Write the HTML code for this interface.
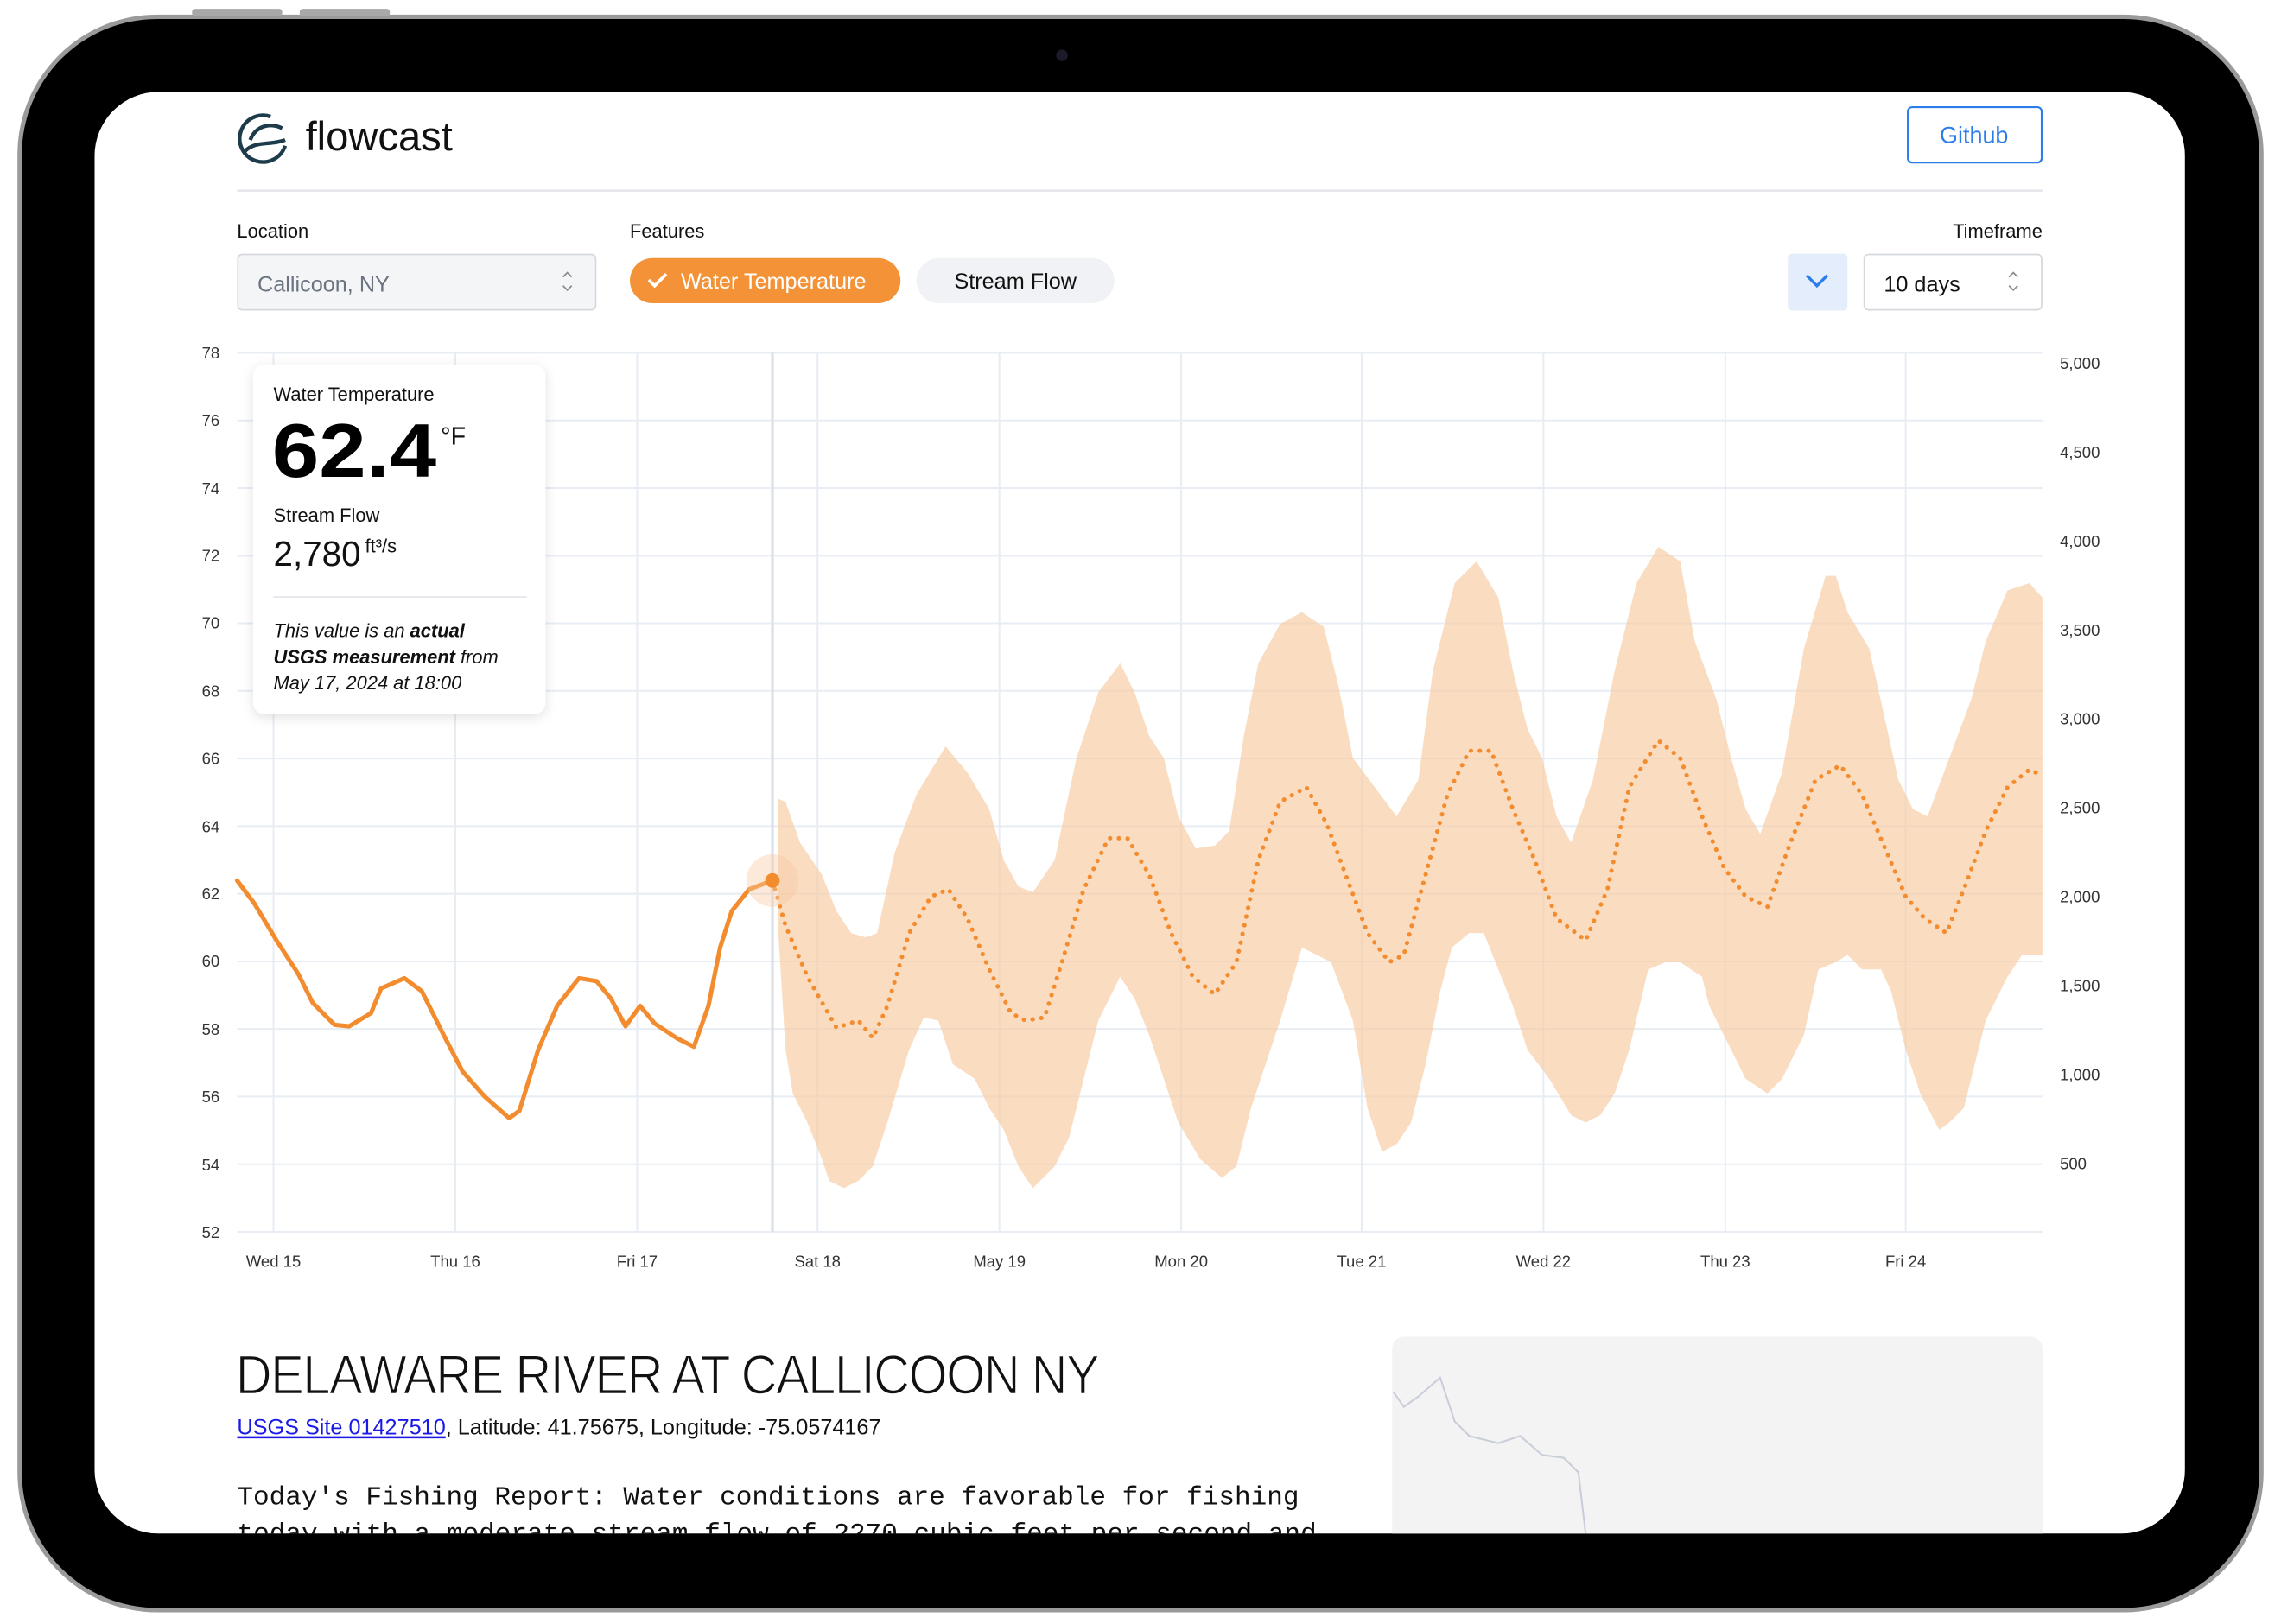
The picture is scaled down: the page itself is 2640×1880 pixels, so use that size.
<!DOCTYPE html>
<html><head><meta charset="utf-8"><style>
html,body{margin:0;padding:0;background:#fff;width:2640px;height:1880px;overflow:hidden}
svg{display:block}
text{font-family:"Liberation Sans",sans-serif}
</style></head><body>
<svg width="2640" height="1880" viewBox="0 0 1568 1114" preserveAspectRatio="none" xmlns="http://www.w3.org/2000/svg">
<defs>
<clipPath id="scr"><rect x="65" y="63" width="1437" height="989" rx="44"/></clipPath>
<filter id="sh" x="-20%" y="-20%" width="140%" height="140%"><feDropShadow dx="0" dy="2" stdDeviation="4" flood-color="#000" flood-opacity="0.12"/></filter>
</defs>
<rect x="0" y="0" width="1568" height="1114" fill="#fff"/>
<rect x="12" y="10" width="1544" height="1096" rx="96" fill="#9a9a9a"/>
<rect x="15" y="13" width="1538" height="1090" rx="93" fill="#000"/>
<rect x="132" y="6" width="62" height="5" rx="2" fill="#a8a8a8"/>
<rect x="206" y="6" width="62" height="5" rx="2" fill="#a8a8a8"/>
<circle cx="730" cy="38" r="4" fill="#1a1a2a"/>
<g clip-path="url(#scr)">
<rect x="65" y="63" width="1437" height="989" fill="#fff"/>
<!-- header -->
<g fill="none" stroke="#1d3b4a" stroke-width="2.6">
<path d="M186 80 A16 16 0 1 0 196 100"/>
<path d="M172 96 C176 86 186 84 194 88"/>
<path d="M168 104 C176 96 186 100 196 96"/>
</g>
<text x="210" y="103" font-size="28" fill="#111">flowcast</text>
<rect x="1311.5" y="73.5" width="92" height="38" rx="3" fill="#fff" stroke="#2b7de9" stroke-width="1.3"/>
<text x="1357" y="98" font-size="16" fill="#2b7de9" text-anchor="middle">Github</text>
<rect x="163" y="130" width="1241" height="1.5" fill="#e5e7eb"/>
<text x="163" y="163" font-size="13" fill="#111">Location</text>
<text x="433" y="163" font-size="13" fill="#111">Features</text>
<text x="1404" y="163" font-size="13" fill="#111" text-anchor="end">Timeframe</text>
<rect x="163.5" y="174.5" width="246" height="38" rx="3" fill="#f4f5f7" stroke="#d5d8dd"/>
<text x="177" y="200" font-size="15" fill="#6b7280">Callicoon, NY</text>
<path d="M387 190 l3 -3 l3 3 M387 196 l3 3 l3 -3" fill="none" stroke="#888" stroke-width="1"/>
<rect x="433" y="177" width="186" height="31" rx="15.5" fill="#f39237"/>
<path d="M446 192 l4 4 l8 -8" fill="none" stroke="#fff" stroke-width="2.2"/>
<text x="468" y="198" font-size="15" fill="#fff">Water Temperature</text>
<rect x="630" y="177" width="136" height="31" rx="15.5" fill="#f0f2f5"/>
<text x="698" y="198" font-size="15" fill="#111" text-anchor="middle">Stream Flow</text>
<rect x="1229" y="174" width="41" height="39" rx="3" fill="#e3edfb"/>
<path d="M1242 189 l7 7 l7 -7" fill="none" stroke="#2b7de9" stroke-width="2"/>
<rect x="1281.5" y="174.5" width="122" height="38" rx="3" fill="#fff" stroke="#d5d8dd"/>
<text x="1295" y="200" font-size="15" fill="#111">10 days</text>
<path d="M1381 190 l3 -3 l3 3 M1381 196 l3 3 l3 -3" fill="none" stroke="#888" stroke-width="1"/>
<!-- grid -->
<g stroke="#e8edf3" stroke-width="1.2">
<line x1="163" y1="242" x2="1404" y2="242"/><line x1="163" y1="288.4" x2="1404" y2="288.4"/>
<line x1="163" y1="334.8" x2="1404" y2="334.8"/><line x1="163" y1="381.2" x2="1404" y2="381.2"/>
<line x1="163" y1="427.5" x2="1404" y2="427.5"/><line x1="163" y1="473.9" x2="1404" y2="473.9"/>
<line x1="163" y1="520.3" x2="1404" y2="520.3"/><line x1="163" y1="566.7" x2="1404" y2="566.7"/>
<line x1="163" y1="613.1" x2="1404" y2="613.1"/><line x1="163" y1="659.5" x2="1404" y2="659.5"/>
<line x1="163" y1="705.8" x2="1404" y2="705.8"/><line x1="163" y1="752.2" x2="1404" y2="752.2"/>
<line x1="163" y1="798.6" x2="1404" y2="798.6"/><line x1="163" y1="845" x2="1404" y2="845"/>
<line x1="188" y1="242" x2="188" y2="845"/><line x1="313" y1="242" x2="313" y2="845"/>
<line x1="438" y1="242" x2="438" y2="845"/><line x1="562" y1="242" x2="562" y2="845"/>
<line x1="687" y1="242" x2="687" y2="845"/><line x1="812" y1="242" x2="812" y2="845"/>
<line x1="936" y1="242" x2="936" y2="845"/><line x1="1061" y1="242" x2="1061" y2="845"/>
<line x1="1186" y1="242" x2="1186" y2="845"/><line x1="1310" y1="242" x2="1310" y2="845"/>
</g>
<line x1="531" y1="242" x2="531" y2="845" stroke="#dde2ea" stroke-width="2"/>
<g font-size="11" fill="#333" text-anchor="end">
<text x="151" y="246">78</text><text x="151" y="292">76</text><text x="151" y="339">74</text>
<text x="151" y="385">72</text><text x="151" y="431">70</text><text x="151" y="478">68</text>
<text x="151" y="524">66</text><text x="151" y="571">64</text><text x="151" y="617">62</text>
<text x="151" y="663">60</text><text x="151" y="710">58</text><text x="151" y="756">56</text>
<text x="151" y="803">54</text><text x="151" y="849">52</text>
</g>
<g font-size="11" fill="#333">
<text x="1416" y="253">5,000</text><text x="1416" y="314">4,500</text><text x="1416" y="375">4,000</text>
<text x="1416" y="436">3,500</text><text x="1416" y="497">3,000</text><text x="1416" y="558">2,500</text>
<text x="1416" y="619">2,000</text><text x="1416" y="680">1,500</text><text x="1416" y="741">1,000</text>
<text x="1416" y="802">500</text>
</g>
<g font-size="11" fill="#333" text-anchor="middle">
<text x="188" y="869">Wed 15</text><text x="313" y="869">Thu 16</text><text x="438" y="869">Fri 17</text>
<text x="562" y="869">Sat 18</text><text x="687" y="869">May 19</text><text x="812" y="869">Mon 20</text>
<text x="936" y="869">Tue 21</text><text x="1061" y="869">Wed 22</text><text x="1186" y="869">Thu 23</text>
<text x="1310" y="869">Fri 24</text>
</g>
<!-- band -->
<path fill="#f8c9a0" fill-opacity="0.65" d="M535 548 L540 550 L550 578 L565 600 L575 625 L585 640 L595 643 L603 640 L615 585 L630 545 L650 512 L665 530 L680 555 L690 590 L700 608 L710 612 L725 590 L740 520 L755 475 L770 455 L780 475 L790 505 L800 520 L810 560 L822 582 L835 580 L845 570 L855 505 L865 455 L880 428 L895 420 L910 430 L920 470 L930 520 L945 540 L960 560 L975 535 L985 460 L1000 400 L1015 385 L1030 410 L1040 460 L1050 500 L1060 520 L1070 560 L1080 578 L1095 535 L1110 460 L1125 400 L1140 375 L1155 385 L1165 440 L1180 480 L1190 520 L1200 555 L1210 572 L1225 530 L1240 445 L1255 395 L1262 395 L1270 420 L1285 445 L1295 490 L1305 535 L1315 555 L1325 560 L1340 520 L1355 480 L1365 440 L1380 405 L1395 400 L1404 410 L1404 655 L1390 655 L1380 670 L1365 700 L1350 760 L1340 770 L1333 775 L1320 750 L1310 720 L1300 680 L1293 665 L1280 665 L1270 655 L1262 660 L1250 665 L1240 710 L1225 740 L1215 750 L1200 740 L1190 720 L1175 690 L1170 670 L1155 660 L1145 660 L1133 665 L1120 720 L1110 750 L1100 765 L1090 770 L1080 765 L1065 740 L1050 720 L1040 690 L1030 665 L1020 640 L1010 640 L998 650 L990 680 L980 730 L970 770 L960 785 L950 790 L940 760 L930 700 L915 660 L905 655 L895 650 L880 700 L870 730 L860 760 L850 800 L840 808 L825 795 L810 770 L800 740 L790 710 L780 685 L770 670 L755 700 L745 740 L735 780 L725 800 L710 815 L700 800 L690 775 L680 760 L670 740 L655 730 L645 700 L635 698 L625 720 L610 770 L600 800 L590 810 L580 815 L570 810 L565 795 L555 770 L545 750 L540 720 L535 640 Z"/>
<!-- forecast dotted -->
<path fill="none" stroke="#f28c2e" stroke-width="3" stroke-linecap="round" stroke-dasharray="0.1 6" stroke-linejoin="round" d="M531 604 L540 635 L555 670 L575 705 L590 700 L600 712 L610 690 L625 640 L640 615 L652 610 L665 630 L680 665 L695 695 L705 700 L718 698 L730 660 L745 610 L762 575 L775 575 L790 600 L805 640 L820 670 L835 682 L850 660 L865 590 L880 550 L898 540 L912 565 L925 600 L940 640 L955 660 L965 655 L980 600 L995 545 L1010 515 L1025 515 L1040 555 L1055 590 L1070 630 L1090 645 L1105 610 L1120 540 L1140 508 L1155 520 L1170 560 L1185 595 L1200 615 L1215 622 L1230 580 L1248 535 L1265 525 L1280 545 L1295 580 L1310 615 L1323 630 L1338 640 L1350 610 L1365 570 L1380 540 L1395 528 L1404 532"/>
<!-- observed -->
<path fill="none" stroke="#f28c2e" stroke-width="3" stroke-linejoin="round" stroke-linecap="round" d="M163 604 L175 620 L190 645 L205 668 L215 688 L230 703 L240 704 L255 695 L262 678 L278 671 L290 680 L305 710 L318 735 L333 752 L350 767 L357 762 L370 720 L383 690 L398 671 L410 673 L420 685 L430 704 L440 690 L450 702 L465 712 L477 718 L487 690 L495 650 L503 625 L515 610 L531 604"/>
<circle cx="531" cy="604" r="18" fill="#f8c9a0" fill-opacity="0.4"/>
<circle cx="531" cy="604" r="5" fill="#f28c2e"/>
<!-- tooltip -->
<rect x="174" y="250" width="201" height="240" rx="8" fill="#fff" filter="url(#sh)"/>
<text x="188" y="275" font-size="13" fill="#111">Water Temperature</text>
<text x="187" y="327" font-size="52" font-weight="bold" fill="#000" textLength="113" lengthAdjust="spacingAndGlyphs">62.4</text>
<text x="303" y="305" font-size="17" fill="#111">°F</text>
<text x="188" y="358" font-size="13" fill="#111">Stream Flow</text>
<text x="188" y="388" font-size="24" fill="#111">2,780</text>
<text x="251" y="379" font-size="13" fill="#111">ft³/s</text>
<rect x="188" y="409" width="174" height="1" fill="#e2e5ea"/>
<text x="188" y="437" font-size="13" font-style="italic" fill="#111">This value is an <tspan font-weight="bold">actual</tspan></text>
<text x="188" y="455" font-size="13" font-style="italic" fill="#111"><tspan font-weight="bold">USGS measurement</tspan> from</text>
<text x="188" y="473" font-size="13" font-style="italic" fill="#111">May 17, 2024 at 18:00</text>
<!-- bottom -->
<text x="162" y="956" font-size="38" fill="#111" stroke="#fff" stroke-width="0.9" textLength="593" lengthAdjust="spacingAndGlyphs" letter-spacing="-1">DELAWARE RIVER AT CALLICOON NY</text>
<text x="163" y="984" font-size="15" fill="#111"><tspan fill="#1a1ae6" text-decoration="underline">USGS Site 01427510</tspan>, Latitude: 41.75675, Longitude: -75.0574167</text>
<text x="163" y="1032" font-size="18" fill="#111" textLength="730" lengthAdjust="spacingAndGlyphs" style="font-family:'Liberation Mono',monospace">Today's Fishing Report: Water conditions are favorable for fishing</text>
<text x="163" y="1057" font-size="18" fill="#111" textLength="742" lengthAdjust="spacingAndGlyphs" style="font-family:'Liberation Mono',monospace">today with a moderate stream flow of 2270 cubic feet per second and</text>
<rect x="957" y="917" width="447" height="160" rx="8" fill="#f3f3f4"/>
<path d="M958 955 L965 965 L975 958 L990 945 L1000 975 L1010 985 L1030 990 L1045 985 L1060 998 L1075 1000 L1085 1010 L1090 1052" fill="none" stroke="#c8cdd8" stroke-width="1.2"/>
</g>
</svg>
</body></html>
